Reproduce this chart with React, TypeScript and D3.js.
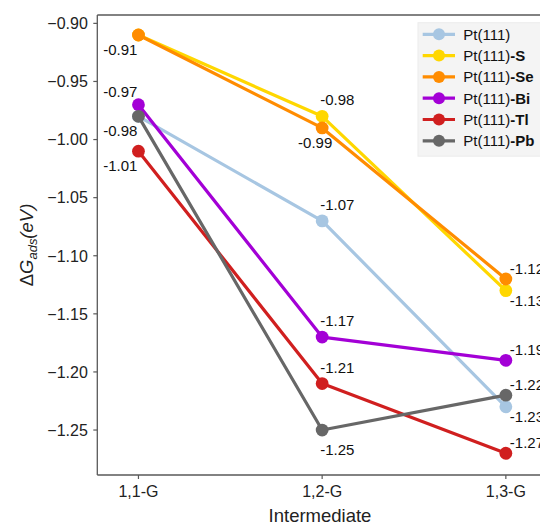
import React from 'react';
import * as d3 from 'd3';

// categories on the x axis
const categories = ['1,1-G', '1,2-G', '1,3-G'];

// adsorption free energies (eV) per surface
const ptValues = [-0.98, -1.07, -1.23];
const sValues = [-0.91, -0.98, -1.13];
const seValues = [-0.91, -0.99, -1.12];
const biValues = [-0.97, -1.17, -1.19];
const tlValues = [-1.01, -1.21, -1.27];
const pbValues = [-0.98, -1.25, -1.22];

const yTicks = [-0.9, -0.95, -1.0, -1.05, -1.1, -1.15, -1.2, -1.25];

// where each value label sits relative to its point (null = not drawn)
const ptLabels = [null, 'up', 'rightDown'];
const sLabels = [null, 'up', 'rightDown'];
const seLabels = ['leftDown', 'downMid', 'rightUp'];
const biLabels = ['leftUp', 'up', 'rightUp'];
const tlLabels = ['leftDown', 'up', 'rightUp'];
const pbLabels = ['leftDown', 'down', 'rightUp'];

const labelModes: Record<string, { anchor: string; dx: number; dy: number }> = {
  leftDown: { anchor: 'end', dx: -1, dy: 20 },
  leftUp: { anchor: 'end', dx: -1, dy: -8 },
  up: { anchor: 'start', dx: -2, dy: -11 },
  down: { anchor: 'start', dx: -2, dy: 25 },
  downMid: { anchor: 'middle', dx: -7, dy: 20 },
  rightUp: { anchor: 'start', dx: 4, dy: -5 },
  rightDown: { anchor: 'start', dx: 4, dy: 15 },
};

const series = [
  { base: 'Pt(111)', suffix: '', color: '#a7c6e2', values: ptValues, labels: ptLabels },
  { base: 'Pt(111)', suffix: '-S', color: '#ffd700', values: sValues, labels: sLabels },
  { base: 'Pt(111)', suffix: '-Se', color: '#ff8c00', values: seValues, labels: seLabels },
  { base: 'Pt(111)', suffix: '-Bi', color: '#a300d6', values: biValues, labels: biLabels },
  { base: 'Pt(111)', suffix: '-Tl', color: '#d01f1f', values: tlValues, labels: tlLabels },
  { base: 'Pt(111)', suffix: '-Pb', color: '#676767', values: pbValues, labels: pbLabels },
];

const width = 540;
const height = 525;
const margin = { top: 15, left: 97.3, bottom: 50 };
const font = '"Liberation Sans", Arial, Helvetica, sans-serif';
const axisColor = '#595959';

export default function App() {
  const x = d3.scaleLinear()
    .domain([-0.224, 2.224])
    .range([margin.left, margin.left + 2.448 * 183.7]);
  const y = d3.scaleLinear()
    .domain([-1.2887, -0.8928])
    .range([height - margin.bottom, margin.top]);

  const line = d3.line<number>()
    .x((d, i) => x(i))
    .y(d => y(d));

  const x0 = margin.left;
  const y0 = height - margin.bottom;

  return (
    <svg width={width} height={height} style={{ position: 'absolute', left: 0, top: 0, fontFamily: font }}>
      <rect width={width} height={height} fill="#fff" />

      {/* spines */}
      <line x1={x0} x2={width} y1={margin.top} y2={margin.top} stroke={axisColor} strokeWidth={1.3} />
      <line x1={x0} x2={width} y1={y0} y2={y0} stroke={axisColor} strokeWidth={1.3} />
      <line x1={x0} x2={x0} y1={margin.top} y2={y0} stroke={axisColor} strokeWidth={1.3} />

      {/* y axis */}
      {yTicks.map(t => (
        <g key={t} transform={`translate(${x0},${y(t)})`}>
          <line x1={-4} x2={0} stroke={axisColor} strokeWidth={1.2} />
          <text x={-9.5} dy="0.36em" textAnchor="end" fontSize={16} fill="#222">
            {t.toFixed(2).replace('-', '\u2212')}
          </text>
        </g>
      ))}

      {/* x axis */}
      {categories.map((c, i) => (
        <g key={c} transform={`translate(${x(i)},${y0})`}>
          <line y1={0} y2={4} stroke={axisColor} strokeWidth={1.2} />
          <text y={22.3} textAnchor="middle" fontSize={16} fill="#222">{c}</text>
        </g>
      ))}

      <text x={320} y={522} textAnchor="middle" fontSize={18.5} fill="#222">Intermediate</text>
      <text transform="translate(32.5,245) rotate(-90)" textAnchor="middle" fontSize={18.5} fill="#222">
        <tspan>Δ</tspan>
        <tspan fontStyle="italic">G</tspan>
        <tspan fontStyle="italic" fontSize={13} dy={4}>ads</tspan>
        <tspan fontStyle="italic" dy={-4}>(eV)</tspan>
      </text>

      {/* lines and markers */}
      {series.map(s => (
        <g key={s.suffix || 'pt'}>
          <path d={line(s.values) || ''} fill="none" stroke={s.color} strokeWidth={3.2} strokeLinejoin="round" />
          {s.values.map((v, i) => (
            <circle key={i} cx={x(i)} cy={y(v)} r={6.4} fill={s.color} />
          ))}
        </g>
      ))}

      {/* value labels */}
      {series.map(s => s.values.map((v, i) => {
        const mode = s.labels[i];
        if (!mode) return null;
        const m = labelModes[mode];
        return (
          <text key={s.suffix + i} x={x(i) + m.dx} y={y(v) + m.dy} textAnchor={m.anchor}
            fontSize={15} fill="#111">
            {v.toFixed(2)}
          </text>
        );
      }))}

      {/* legend */}
      <g transform="translate(418,22.7)">
        <rect width={140} height={133.5} fill="#f4f4f4" stroke="#ececec" />
        {series.map((s, i) => (
          <g key={s.suffix || 'pt'} transform={`translate(0,${11.6 + i * 21.3})`}>
            <line x1={4.7} x2={37} stroke={s.color} strokeWidth={3.2} />
            <circle cx={21} cy={0} r={6} fill={s.color} />
            <text x={45.3} dy="0.36em" fontSize={15} fill="#111">
              {s.base}
              <tspan fontWeight="bold">{s.suffix}</tspan>
            </text>
          </g>
        ))}
      </g>
    </svg>
  );
}
